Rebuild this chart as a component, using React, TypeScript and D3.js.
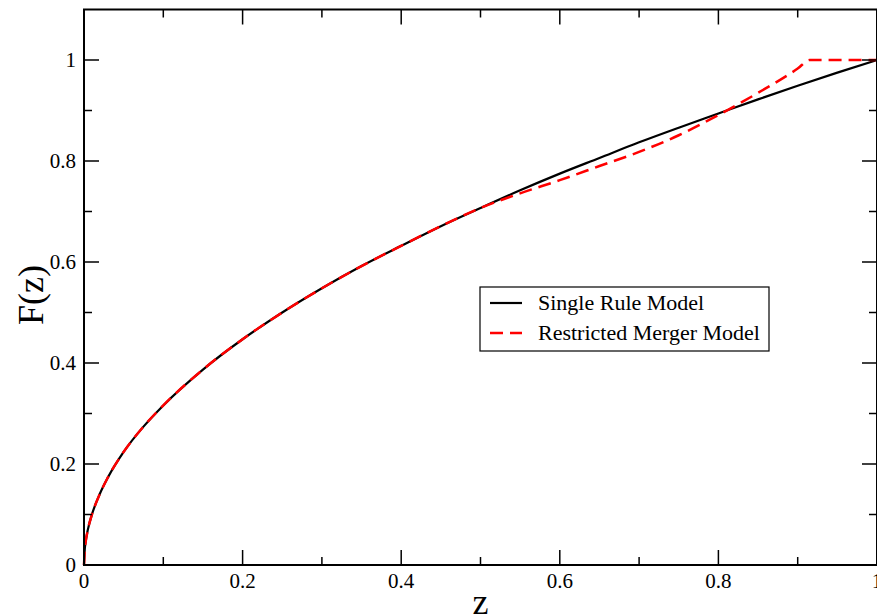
import React from "react";
import * as d3 from "d3";

const zSingle = [0, 0.001, 0.002, 0.005, 0.01, 0.02, 0.03, 0.05, 0.075, 0.1, 0.15, 0.2, 0.25, 0.3, 0.35, 0.4, 0.45, 0.5, 0.55, 0.6, 0.65, 0.7, 0.75, 0.8, 0.85, 0.9, 0.95, 1.0];
const fSingle = [0, 0.032, 0.045, 0.071, 0.1, 0.141, 0.173, 0.224, 0.274, 0.316, 0.387, 0.447, 0.5, 0.548, 0.592, 0.632, 0.671, 0.707, 0.742, 0.775, 0.806, 0.837, 0.866, 0.894, 0.922, 0.949, 0.975, 1.0];

const zMerger = [0, 0.001, 0.002, 0.005, 0.01, 0.02, 0.03, 0.05, 0.075, 0.1, 0.15, 0.2, 0.25, 0.3, 0.35, 0.4, 0.45, 0.5, 0.55, 0.6, 0.65, 0.7, 0.75, 0.8, 0.85, 0.9, 0.915, 1.0];
const fMerger = [0, 0.032, 0.045, 0.071, 0.1, 0.141, 0.173, 0.224, 0.274, 0.316, 0.387, 0.447, 0.5, 0.548, 0.592, 0.632, 0.671, 0.707, 0.736, 0.762, 0.79, 0.818, 0.851, 0.891, 0.935, 0.983, 1.0, 1.0];

const xMajor = [0, 0.2, 0.4, 0.6, 0.8, 1];
const xMajorLabels = ["0", "0.2", "0.4", "0.6", "0.8", "1"];
const xMinor = [0.1, 0.3, 0.5, 0.7, 0.9];
const yMajor = [0, 0.2, 0.4, 0.6, 0.8, 1];
const yMajorLabels = ["0", "0.2", "0.4", "0.6", "0.8", "1"];
const yMinor = [0.1, 0.3, 0.5, 0.7, 0.9];

const seriesNames = ["Single Rule Model", "Restricted Merger Model"];

const W = 877, H = 614;
const L = 84, R = 877, T = 9.5, B = 565;
const FONT = "Liberation Serif, DejaVu Serif, serif";
const ts = { fontFamily: FONT };

export default function App() {
  const x = d3.scaleLinear().domain([0, 1]).range([L, R]);
  const y = d3.scaleLinear().domain([0, 1.1]).range([B, T]);

  const single = zSingle.map((z, i) => [z, fSingle[i]] as [number, number]);
  const merger = zMerger.map((z, i) => [z, fMerger[i]] as [number, number]);

  const smooth = d3.line<[number, number]>().x(d => x(d[0])).y(d => y(d[1])).curve(d3.curveMonotoneX);

  const majLen = 15, minLen = 8;

  return (
    <svg width={W} height={H} style={{ position: "absolute", left: 0, top: 0, background: "#fff" }}>
      <rect x={0} y={0} width={W} height={H} fill="#fff" />
      {/* curves */}
      <path d={smooth(single) || ""} fill="none" stroke="#000" strokeWidth={2.2} />
      <path d={smooth(merger) || ""} fill="none" stroke="#ff0000" strokeWidth={2.5} strokeDasharray="13,7" />

      {/* frame */}
      <rect x={L} y={T} width={R - L} height={B - T} fill="none" stroke="#000" strokeWidth={2} />

      {/* x ticks */}
      {xMajor.map((v, i) => (
        <g key={"xm" + i}>
          <line x1={x(v)} x2={x(v)} y1={B} y2={B - majLen} stroke="#000" strokeWidth={1.5} />
          <line x1={x(v)} x2={x(v)} y1={T} y2={T + majLen} stroke="#000" strokeWidth={1.5} />
          <text x={x(v)} y={588} textAnchor="middle" fontSize={21} style={ts}>{xMajorLabels[i]}</text>
        </g>
      ))}
      {xMinor.map((v, i) => (
        <g key={"xn" + i}>
          <line x1={x(v)} x2={x(v)} y1={B} y2={B - minLen} stroke="#000" strokeWidth={1.5} />
          <line x1={x(v)} x2={x(v)} y1={T} y2={T + minLen} stroke="#000" strokeWidth={1.5} />
        </g>
      ))}
      {/* y ticks */}
      {yMajor.map((v, i) => (
        <g key={"ym" + i}>
          <line x1={L} x2={L + majLen} y1={y(v)} y2={y(v)} stroke="#000" strokeWidth={1.5} />
          <line x1={R} x2={R - majLen} y1={y(v)} y2={y(v)} stroke="#000" strokeWidth={1.5} />
          <text x={76} y={y(v) + 7} textAnchor="end" fontSize={21} style={ts}>{yMajorLabels[i]}</text>
        </g>
      ))}
      {yMinor.map((v, i) => (
        <g key={"yn" + i}>
          <line x1={L} x2={L + minLen} y1={y(v)} y2={y(v)} stroke="#000" strokeWidth={1.5} />
          <line x1={R} x2={R - minLen} y1={y(v)} y2={y(v)} stroke="#000" strokeWidth={1.5} />
        </g>
      ))}

      {/* axis labels */}
      <text x={(L + R) / 2} y={614} textAnchor="middle" fontSize={36} style={ts}>z</text>
      <text transform={`translate(43,295) rotate(-90)`} textAnchor="middle" fontSize={36} style={ts}>F(z)</text>

      {/* legend */}
      <rect x={480} y={287} width={289} height={64} fill="#fff" stroke="#000" strokeWidth={1.2} />
      <line x1={490} x2={522} y1={303} y2={303} stroke="#000" strokeWidth={2.2} />
      <text x={538} y={310} fontSize={22} style={ts}>{seriesNames[0]}</text>
      <line x1={490} x2={522} y1={333} y2={333} stroke="#ff0000" strokeWidth={2.5} strokeDasharray="13,7" />
      <text x={538} y={340} fontSize={22} style={ts}>{seriesNames[1]}</text>
    </svg>
  );
}
